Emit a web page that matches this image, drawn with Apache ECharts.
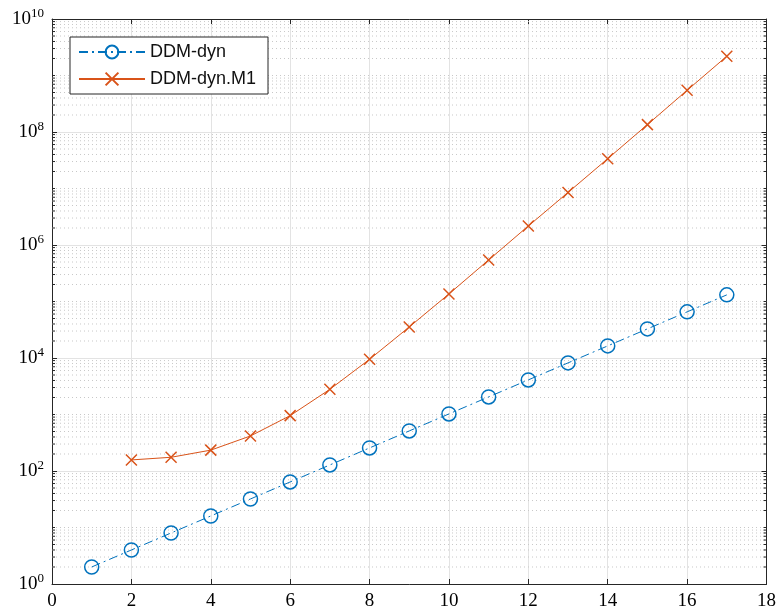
<!DOCTYPE html>
<html><head><meta charset="utf-8">
<script src="https://cdn.jsdelivr.net/npm/echarts@6/dist/echarts.min.js"></script>
<style>html,body{margin:0;padding:0;background:#fff}#c{width:779px;height:616px}</style>
</head><body><div id="c"></div>
<script>
var xDyn = [1,2,3,4,5,6,7,8,9,10,11,12,13,14,15,16,17];
var yDyn = [2,4,8,16,32,64,128,256,512,1024,2048,4096,8192,16384,32768,65536,131072];
var xM1 = [2,3,4,5,6,7,8,9,10,11,12,13,14,15,16,17];
var yM1 = [157,175,234,417,955,2790,9490,35400,136000,543000,2170000,8500000,33700000,135000000,547000000,2190000000];
var xTicks = [0,2,4,6,8,10,12,14,16,18];
var yMajorExp = [0,2,4,6,8,10];
var minorVals = [];
for (var e = 0; e < 10; e++) { for (var m = 2; m <= 9; m++) minorVals.push(m * Math.pow(10, e)); }
for (var e2 = 1; e2 < 10; e2 += 2) minorVals.push(Math.pow(10, e2));

var serif = '"Liberation Serif", "DejaVu Serif", serif';
var sans = '"Liberation Sans", Arial, sans-serif';
var axisCol = '#262626';

var chart = echarts.init(document.getElementById('c'));
chart.setOption({
  animation: false,
  backgroundColor: '#fff',
  grid: { left: 52, right: 12, top: 19, bottom: 32 },
  legend: {
    data: ['DDM-dyn', 'DDM-dyn.M1'],
    orient: 'vertical', left: 70, top: 37,
    backgroundColor: '#fff', borderColor: axisCol, borderWidth: 1,
    padding: [6, 12, 6, 8], itemGap: 9,
    itemWidth: 66, itemHeight: 16,
    textStyle: { fontFamily: sans, fontSize: 18, color: '#111' }
  },
  xAxis: [{
    type: 'value', min: 0, max: 18, interval: 2,
    axisLine: { show: true, lineStyle: { color: axisCol, width: 1 } },
    axisTick: { show: true, inside: true, length: 5, lineStyle: { color: axisCol } },
    axisLabel: { fontFamily: serif, fontSize: 19, color: '#000', margin: 8 },
    splitLine: { show: true, lineStyle: { color: '#e3e3e3', width: 1 } }
  }, {
    type: 'value', min: 0, max: 18, interval: 2, position: 'top',
    axisLine: { show: true, onZero: false, lineStyle: { color: axisCol, width: 1 } },
    axisTick: { show: true, inside: true, length: 5, lineStyle: { color: axisCol } },
    axisLabel: { show: false }, splitLine: { show: false }
  }],
  yAxis: [{
    type: 'log', logBase: 10, min: 1, max: 1e10, interval: 2,
    axisLine: { show: true, lineStyle: { color: axisCol, width: 1 } },
    axisTick: { show: true, inside: true, length: 5, lineStyle: { color: axisCol } },
    axisLabel: {
      margin: 8,
      formatter: function (v) {
        var ex = Math.round(Math.log10(v));
        return '{b|10}{s|' + ex + '}';
      },
      rich: {
        b: { fontFamily: serif, fontSize: 19, color: '#000' },
        s: { fontFamily: serif, fontSize: 13, color: '#000', padding: [0, 0, 10, 0] }
      }
    },
    splitLine: { show: true, lineStyle: { color: '#e3e3e3', width: 1 } }
  }, {
    type: 'log', logBase: 10, min: 1, max: 1e10, interval: 2, position: 'right',
    axisLine: { show: true, onZero: false, lineStyle: { color: axisCol, width: 1 } },
    axisTick: { show: true, inside: true, length: 5, lineStyle: { color: axisCol } },
    axisLabel: { show: false }, splitLine: { show: false }
  }],
  series: [{
    type: 'custom', name: 'minor', silent: true, z: 1,
    data: minorVals.map(function (v) { return [v]; }),
    renderItem: function (params, api) {
      var v = api.value(0);
      var pL = api.coord([0, v]);
      var pR = api.coord([18, v]);
      return {
        type: 'group', children: [
          { type: 'line', shape: { x1: pL[0], y1: pL[1], x2: pR[0], y2: pR[1] },
            style: { stroke: '#c8c8c8', lineWidth: 1, lineDash: [1, 3] } },
          { type: 'line', shape: { x1: pL[0], y1: pL[1], x2: pL[0] + 3, y2: pL[1] },
            style: { stroke: axisCol, lineWidth: 1 } },
          { type: 'line', shape: { x1: pR[0], y1: pR[1], x2: pR[0] - 3, y2: pR[1] },
            style: { stroke: axisCol, lineWidth: 1 } }
        ]
      };
    },
    encode: { y: 0 }
  }, {
    name: 'DDM-dyn', type: 'line', z: 3,
    data: xDyn.map(function (x, i) { return [x, yDyn[i]]; }),
    symbol: 'circle', symbolSize: 14,
    itemStyle: { color: 'rgba(0,0,0,0)', borderColor: '#0072BD', borderWidth: 1.5 },
    lineStyle: { color: '#0072BD', width: 1, type: [9, 4, 2, 4] }
  }, {
    name: 'DDM-dyn.M1', type: 'line', z: 3,
    data: xM1.map(function (x, i) { return [x, yM1[i]]; }),
    symbol: 'path://M0,0L10,10M10,0L0,10', symbolSize: 11,
    itemStyle: { color: 'rgba(0,0,0,0)', borderColor: '#D95319', borderWidth: 1.5 },
    lineStyle: { color: '#D95319', width: 1 }
  }]
});
</script></body></html>
